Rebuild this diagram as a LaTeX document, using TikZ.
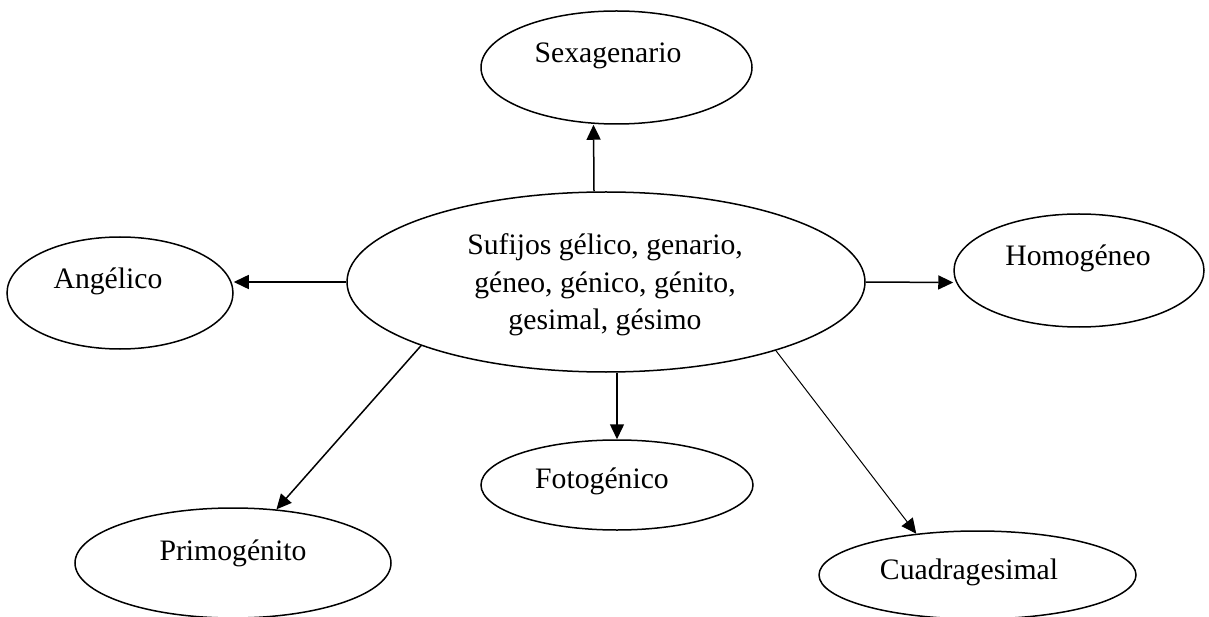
\documentclass[tikz,border=0pt]{standalone}
\usepackage{fontspec}
\setmainfont{Liberation Serif}
\usetikzlibrary{shapes,arrows.meta}

\begin{document}
\begin{tikzpicture} [
    x=1pt, y=-1pt,
    line width=1.5pt,
    >={Triangle[length=15pt,width=14pt]},
  ]

  \tikzstyle{oval} = [
    ellipse,
    draw=black,
    inner sep=0pt,
  ]
  \tikzstyle{word} = [
    font=\fontsize{29.7}{37.5}\selectfont,
    inner sep=0pt,
    align=center,
  ]

  \useasboundingbox (0,0) rectangle (1209,617);

  \node[oval,minimum width=518pt,minimum height=180pt] (nucleo) at (606,282)   {};
  \node[oval,minimum width=271pt,minimum height=113pt] (sexa)   at (616.5,67.5) {};
  \node[oval,minimum width=226pt,minimum height=112pt] (angel)  at (120,293)   {};
  \node[oval,minimum width=250pt,minimum height=113pt] (homo)   at (1079,270.5) {};
  \node[oval,minimum width=316pt,minimum height=110pt] (primo)  at (233,563)   {};
  \node[oval,minimum width=272pt,minimum height=90pt]  (foto)   at (617,485)   {};
  \node[oval,minimum width=317pt,minimum height=88pt]  (cuad)   at (977.5,575) {};

  \node[word] (nucleoTxt) at (605,285) {Sufijos gélico, genario,\\ géneo, génico, génito,\\ gesimal, gésimo};
  \node[word] (sexaTxt)  at (608,56)   {Sexagenario};
  \node[word] (angelTxt) at (108,281)  {Angélico};
  \node[word] (homoTxt)  at (1078,258) {Homogéneo};
  \node[word] (primoTxt) at (233,553)  {Primogénito};
  \node[word] (fotoTxt)  at (602,481)  {Fotogénico};
  \node[word] (cuadTxt)  at (969,572)  {Cuadragesimal};

  \path[->] ([xshift=-12pt]nucleo.north) edge ([xshift=-23pt]sexa.south);
  \path[->] (nucleo.west)                edge ([yshift=11pt]angel.east);
  \path[->] (nucleo.east)                edge ([yshift=-12pt]homo.west);
  \path[->] (nucleo.199)                 edge (primo.51);
  \path[->] ([xshift=11pt]nucleo.south)  edge (foto.north);
  \path[->,line width=1pt] (nucleo.338)  edge (cuad.146);

\end{tikzpicture}
\end{document}
